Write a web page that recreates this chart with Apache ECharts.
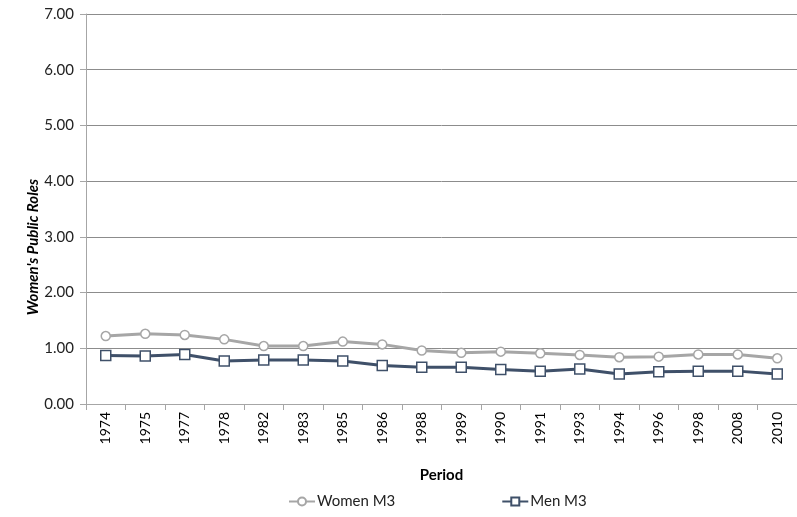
<!DOCTYPE html>
<html><head><meta charset="utf-8">
<script src="https://cdn.jsdelivr.net/npm/echarts@6/dist/echarts.min.js"></script>
<style>html,body{margin:0;padding:0;background:#fff}#c{width:797px;height:517px}</style>
</head><body><div id="c"></div>
<script>
const periods = ['1974','1975','1977','1978','1982','1983','1985','1986','1988','1989','1990','1991','1993','1994','1996','1998','2008','2010'];
const womenM3 = [1.22,1.26,1.24,1.16,1.04,1.04,1.12,1.07,0.96,0.92,0.94,0.91,0.88,0.84,0.85,0.89,0.89,0.82];
const menM3 = [0.87,0.86,0.89,0.77,0.79,0.79,0.77,0.69,0.66,0.66,0.62,0.59,0.63,0.54,0.58,0.59,0.59,0.54];
const yTicks = [0,1,2,3,4,5,6,7];

const FONT = 'Lato, "Open Sans", sans-serif';
const chart = echarts.init(document.getElementById('c'), null, {renderer:'canvas'});
chart.setOption({
  animation:false,
  grid:{left:86, right:0, top:14, bottom:113, containLabel:false},
  legend:{
    bottom:3, left:283, itemGap:106, itemWidth:26, itemHeight:10,
    textStyle:{fontFamily:FONT, fontSize:15, color:'#222', padding:[0,0,0,-3]},
    data:['Women M3','Men M3']
  },
  xAxis:{
    type:'category', data:periods, boundaryGap:true,
    name:'Period', nameLocation:'middle', nameGap:64, nameMoveOverlap:false,
    nameTextStyle:{fontFamily:FONT, fontSize:15, fontWeight:'bold', color:'#000'},
    axisLine:{lineStyle:{color:'#a6a6a6'}},
    axisTick:{show:true, alignWithLabel:false, length:6, lineStyle:{color:'#a6a6a6'}},
    axisLabel:{rotate:90, fontFamily:FONT, fontSize:14, color:'#000', margin:8}
  },
  yAxis:{
    type:'value', min:0, max:7, interval:1,
    name:"Women's Public Roles", nameLocation:'middle', nameGap:45, nameRotate:90, nameMoveOverlap:false,
    nameTextStyle:{fontFamily:FONT, fontSize:15, fontWeight:'bold', fontStyle:'italic', color:'#000', padding:[0,76,0,0]},
    axisLine:{show:true, lineStyle:{color:'#a6a6a6'}},
    axisTick:{show:true, length:6, lineStyle:{color:'#a6a6a6'}},
    axisLabel:{fontFamily:FONT, fontSize:15, color:'#222', margin:12, formatter:v=>v.toFixed(2)},
    splitLine:{lineStyle:{color:'#8c8c8c', width:1}}
  },
  series:[
    {name:'Women M3', type:'line', data:womenM3, symbol:'circle', symbolSize:9,
     lineStyle:{color:'#a6a6a6', width:3},
     itemStyle:{color:'#ffffff', borderColor:'#a6a6a6', borderWidth:1.5}},
    {name:'Men M3', type:'line', data:menM3, symbol:'rect', symbolSize:10,
     lineStyle:{color:'#3f5069', width:3},
     itemStyle:{color:'#ffffff', borderColor:'#3f5069', borderWidth:1.5}}
  ]
});
</script></body></html>
